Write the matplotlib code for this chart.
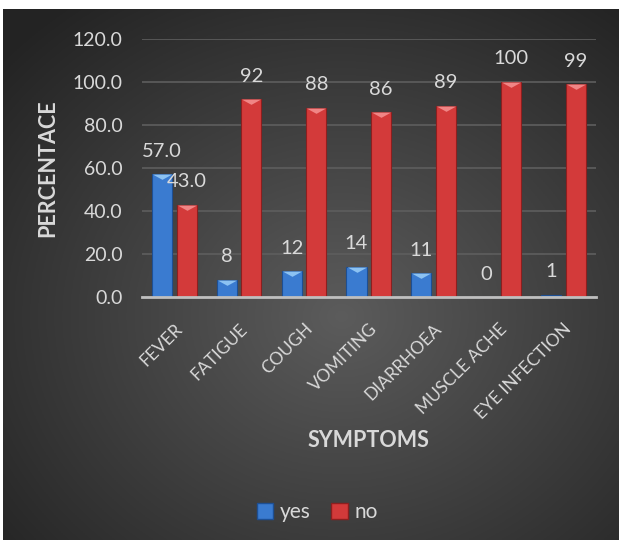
import numpy as np
import matplotlib
matplotlib.use("Agg")
import matplotlib.pyplot as plt
from matplotlib.patches import Patch

# data
symptoms = ["FEVER", "FATIGUE", "COUGH", "VOMITING", "DIARRHOEA",
            "MUSCLE ACHE", "EYE INFECTION"]
yes_vals = [57, 8, 12, 14, 11, 0, 1]
no_vals = [43, 92, 88, 86, 89, 100, 99]
yes_labels = ["57.0", "8", "12", "14", "11", "0", "1"]
no_labels = ["43.0", "92", "88", "86", "89", "100", "99"]
yticks = [0, 20, 40, 60, 80, 100, 120]

plt.rcParams['font.family'] = ['Lato', 'DejaVu Sans']
txt = '#d9d9d9'

fig = plt.figure(figsize=(6.22, 5.47), dpi=100, facecolor='white')

# dark radial background of the chart area
bg = fig.add_axes([0.005, 0.013, 0.99, 0.971])
bg.set_axis_off()
yy, xx = np.mgrid[0:1:300j, 0:1:300j]
r = np.sqrt((xx - 0.55) ** 2 + (yy - 0.42) ** 2)
shade = np.clip(0.36 - 0.30 * r, 0.14, 0.36)
img = np.dstack([shade, shade, shade])
bg.imshow(img, extent=[0, 1, 0, 1], aspect='auto', origin='lower')

ax = fig.add_axes([0.228, 0.457, 0.730, 0.472])
ax.patch.set_alpha(0)

x = np.arange(len(symptoms))
w = 0.31
off = 0.19

# bars
ax.bar(x - off, yes_vals, w, color='#3a7bd0', edgecolor='#1d4f94',
       linewidth=0.8, zorder=3)
ax.bar(x + off, no_vals, w, color='#d33a3a', edgecolor='#8c1f1f',
       linewidth=0.8, zorder=3)

# bevel triangle on top of each bar
tri = [(-1, 0), (1, 0), (0, -0.55)]
for xs, vals, c in [(x - off, yes_vals, '#8cc2f2'), (x + off, no_vals, '#f08585')]:
    for xi, v in zip(xs, vals):
        if v > 2:
            ax.plot(xi, v, marker=tri, markersize=14, color=c,
                    markeredgewidth=0, zorder=4)

# value labels
for xs, vals, labs in [(x - off, yes_vals, yes_labels), (x + off, no_vals, no_labels)]:
    for xi, v, lab in zip(xs, vals, labs):
        ax.annotate(lab, (xi, v), xytext=(0, 16.5), textcoords='offset points',
                    ha='center', va='center', color=txt, fontsize=14.5, zorder=5)

ax.set_xlim(-0.5, len(symptoms) - 0.5)
ax.set_ylim(0, 120)
ax.set_yticks(yticks)
ax.set_yticklabels(["%.1f" % t for t in yticks])
ax.yaxis.grid(True, color='#5e5e5e', linewidth=1.2, zorder=0)
ax.set_axisbelow(True)
for s in ['top', 'right', 'left']:
    ax.spines[s].set_visible(False)
ax.spines['bottom'].set_color('#bfbfbf')
ax.spines['bottom'].set_linewidth(2)
ax.spines['bottom'].set_zorder(6)

ax.tick_params(axis='y', length=0, pad=14, labelcolor=txt, labelsize=14)
ax.tick_params(axis='x', length=0, pad=17, labelcolor=txt, labelsize=12.5)
ax.set_xticks(x)
ax.set_xticklabels(symptoms, rotation=45, ha='right', va='top',
                   rotation_mode='anchor')

ax.set_ylabel("PERCENTACE", color=txt, fontsize=15.5, fontweight='bold',
              labelpad=10)
fig.text(0.593, 0.194, "SYMPTOMS", color=txt, fontsize=15.5,
         fontweight='bold', ha='center', va='center')

# legend
handles = [Patch(facecolor='#3a7bd0', edgecolor='#1d4f94', label='yes'),
           Patch(facecolor='#d33a3a', edgecolor='#8c1f1f', label='no')]
leg = fig.legend(handles=handles, loc='center', bbox_to_anchor=(0.51, 0.064),
                 ncol=2, frameon=False, fontsize=15, handlelength=0.8,
                 handleheight=0.8, handletextpad=0.3, columnspacing=1.0)
for t in leg.get_texts():
    t.set_color(txt)

fig.savefig("out.png", dpi=100, facecolor='white')
